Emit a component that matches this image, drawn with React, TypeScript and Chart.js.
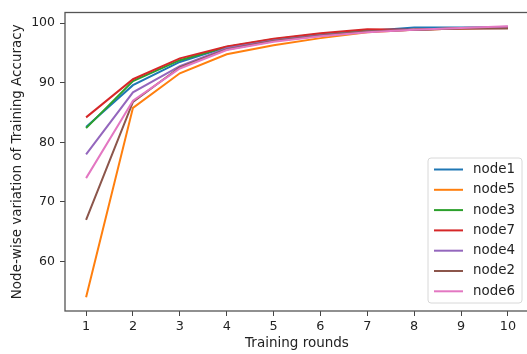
import React, { useEffect, useRef } from "react";
import { Chart, registerables } from "chart.js";

Chart.register(...registerables);

const rounds = [1, 2, 3, 4, 5, 6, 7, 8, 9, 10];
const seriesNames = ["node1", "node5", "node3", "node7", "node4", "node2", "node6"];
const seriesColors = ["#1f77b4", "#ff7f0e", "#2ca02c", "#d62728", "#9467bd", "#8c564b", "#e377c2"];

const node1 = [82.6, 89.6, 93.5, 96.0, 97.2, 98.1, 98.7, 99.3, 99.3, 99.3];
const node5 = [54.0, 85.8, 91.6, 94.8, 96.3, 97.5, 98.5, 98.9, 99.1, 99.3];
const node3 = [82.4, 90.3, 93.8, 96.0, 97.3, 98.2, 98.8, 98.9, 99.2, 99.3];
const node7 = [84.2, 90.6, 94.1, 96.1, 97.4, 98.3, 99.0, 98.9, 99.1, 99.2];
const node4 = [78.0, 88.4, 92.8, 95.8, 97.1, 98.0, 98.6, 98.9, 99.2, 99.4];
const node2 = [67.0, 86.8, 92.6, 95.6, 97.0, 97.9, 98.6, 98.9, 99.1, 99.1];
const node6 = [74.0, 87.0, 92.4, 95.5, 96.9, 97.8, 98.5, 98.9, 99.2, 99.5];

const seriesValues = [node1, node5, node3, node7, node4, node2, node6];

const xTicks = [1, 2, 3, 4, 5, 6, 7, 8, 9, 10];
const yTicks = [60, 70, 80, 90, 100];

const xTitle = "Training rounds";
const yTitle = "Node-wise variation of Training Accuracy";

const FONT = "'DejaVu Sans', sans-serif";

const frameAndLegend = {
  id: "frameAndLegend",
  afterDatasetsDraw(chart: any) {
    const { ctx, chartArea } = chart;
    ctx.save();
    // frame (spines)
    ctx.strokeStyle = "#555";
    ctx.lineWidth = 1.3;
    ctx.strokeRect(chartArea.left, chartArea.top, chartArea.right - chartArea.left, chartArea.bottom - chartArea.top);

    // legend box
    const bx = 428, by = 158, bw = 94, bh = 145, r = 3;
    ctx.beginPath();
    ctx.moveTo(bx + r, by);
    ctx.lineTo(bx + bw - r, by);
    ctx.quadraticCurveTo(bx + bw, by, bx + bw, by + r);
    ctx.lineTo(bx + bw, by + bh - r);
    ctx.quadraticCurveTo(bx + bw, by + bh, bx + bw - r, by + bh);
    ctx.lineTo(bx + r, by + bh);
    ctx.quadraticCurveTo(bx, by + bh, bx, by + bh - r);
    ctx.lineTo(bx, by + r);
    ctx.quadraticCurveTo(bx, by, bx + r, by);
    ctx.closePath();
    ctx.fillStyle = "rgba(255,255,255,0.8)";
    ctx.fill();
    ctx.strokeStyle = "#d8d8d8";
    ctx.lineWidth = 1;
    ctx.stroke();

    ctx.font = `13.4px ${FONT}`;
    ctx.textBaseline = "middle";
    ctx.textAlign = "left";
    seriesNames.forEach((name, i) => {
      const y = 169.5 + i * 20.3;
      ctx.strokeStyle = seriesColors[i];
      ctx.lineWidth = 2;
      ctx.beginPath();
      ctx.moveTo(434, y);
      ctx.lineTo(463, y);
      ctx.stroke();
      ctx.fillStyle = "#222";
      ctx.fillText(name, 473, y);
    });
    ctx.restore();
  },
};

export default function App() {
  const canvasRef = useRef<HTMLCanvasElement | null>(null);

  useEffect(() => {
    document.body.style.margin = "0";
    const canvas = canvasRef.current;
    if (!canvas) return;
    const chart = new Chart(canvas, {
      type: "line",
      data: {
        datasets: seriesNames.map((name, i) => ({
          label: name,
          data: rounds.map((x, j) => ({ x, y: seriesValues[i][j] })),
          borderColor: seriesColors[i],
          backgroundColor: seriesColors[i],
          borderWidth: 2,
          pointRadius: 0,
          tension: 0,
          fill: false,
          order: seriesNames.length - i,
        })),
      },
      options: {
        animation: false,
        responsive: false,
        maintainAspectRatio: false,
        layout: { padding: { top: 10, right: 1, left: 0, bottom: 0 } },
        plugins: {
          legend: { display: false },
          tooltip: { enabled: false },
        },
        scales: {
          x: {
            type: "linear",
            min: 0.55,
            max: 10.45,
            afterBuildTicks: (scale: any) => {
              scale.ticks = xTicks.map((v) => ({ value: v }));
            },
            afterFit: (scale: any) => {
              scale.height = 43;
            },
            grid: {
              drawOnChartArea: false,
              drawTicks: true,
              tickLength: 5,
              tickColor: "#444",
              tickWidth: 1,
            },
            border: { display: false },
            ticks: {
              color: "#222",
              font: { family: FONT, size: 12.8 },
              padding: 3,
              maxRotation: 0,
              autoSkip: false,
              callback: (v: any) => String(v),
            },
            title: {
              display: true,
              text: xTitle,
              color: "#222",
              font: { family: FONT, size: 13.5 },
              padding: { top: 0, bottom: 2 },
            },
          },
          y: {
            type: "linear",
            min: 51.7,
            max: 101.8,
            afterBuildTicks: (scale: any) => {
              scale.ticks = yTicks.map((v) => ({ value: v }));
            },
            afterFit: (scale: any) => {
              scale.width = 65;
            },
            grid: {
              drawOnChartArea: false,
              drawTicks: true,
              tickLength: 5,
              tickColor: "#444",
              tickWidth: 1,
            },
            border: { display: false },
            ticks: {
              color: "#222",
              font: { family: FONT, size: 12.5 },
              padding: 5,
              autoSkip: false,
              callback: (v: any) => String(v),
            },
            title: {
              display: true,
              text: yTitle,
              color: "#222",
              font: { family: FONT, size: 13.5 },
              padding: { top: 9, bottom: 0 },
            },
          },
        },
      },
      plugins: [frameAndLegend],
    });
    return () => chart.destroy();
  }, []);

  return (
    <div style={{ width: 527, height: 354, overflow: "hidden", position: "relative", background: "#fff" }}>
      <canvas ref={canvasRef} width={530} height={354} style={{ display: "block", width: 530, height: 354 }} />
    </div>
  );
}
